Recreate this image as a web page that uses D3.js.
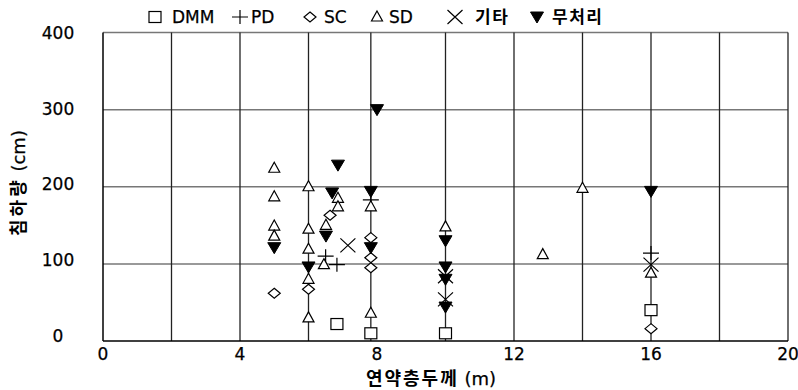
<!DOCTYPE html>
<html>
<head>
<meta charset="utf-8">
<script src="https://cdn.jsdelivr.net/npm/d3@7"></script>
<style>
  body { margin: 0; background: #fff; }
  svg text { font-family: "DejaVu Sans", "Liberation Sans", "Noto Sans CJK KR", sans-serif; fill: #000; stroke: #000; stroke-width: 0.25px; }
  .kr { font-family: "Noto Sans CJK KR", "DejaVu Sans", sans-serif; font-weight: bold; stroke-width: 0; }
</style>
</head>
<body>
<div id="chart"></div>
<script>
// data: [thickness (m), settlement (cm)]
var dmm  = [[6.83, 22], [7.82, 10], [10, 10], [16, 40]];
var pd   = [[6.5, 110], [6.83, 99], [7.82, 183], [16, 114]];
var sc   = [[5, 62], [6, 67], [6.63, 163], [7.82, 134], [7.82, 108], [7.82, 95], [16, 16]];
var sd   = [[5, 224], [5, 187], [5, 149], [5, 136], [6, 200], [6, 145], [6, 119], [6, 80], [6, 30],
            [6.86, 185], [6.86, 174], [6.51, 150], [6.45, 99], [7.82, 174], [7.82, 36],
            [10, 148], [12.84, 112], [14, 198], [16, 88]];
var etc  = [[7.15, 124], [10, 84], [10, 54], [16, 99]];
var none = [[5, 121], [6, 96], [6.86, 228], [6.69, 192], [6.51, 136], [8, 300], [7.82, 194],
            [7.82, 121], [10, 130], [10, 96], [10, 80], [10, 44], [16, 194]];

var seriesNames = ['DMM', 'PD', 'SC', 'SD', '기타', '무처리'];
var seriesData  = [dmm, pd, sc, sd, etc, none];
var seriesShape = ['square', 'plus', 'diamond', 'triangle', 'cross', 'down'];

var xTicks = [0, 4, 8, 12, 16, 20];
var xGrid  = [2, 4, 6, 7.82, 10, 12, 14, 16, 18];
var yTicks = [0, 100, 200, 300, 400];

// layout
var W = 798, H = 390;
var m = {left: 103, right: 10, top: 32.5, bottom: 49};

var svg = d3.select('#chart').append('svg')
            .attr('width', W)
            .attr('height', H);

var x = d3.scaleLinear().domain([0, 20]).range([m.left, W - m.right]);
var y = d3.scaleLinear().domain([0, 400]).range([H - m.bottom, m.top]);

// horizontal grid (including top edge)
svg.append('g').selectAll('line').data(yTicks.slice(1))
   .enter().append('line')
   .attr('x1', x(0)).attr('x2', x(20))
   .attr('y1', d => y(d)).attr('y2', d => y(d))
   .attr('stroke', '#777').attr('stroke-width', 1.5);

// vertical grid
svg.append('g').selectAll('line').data(xGrid.concat([20]))
   .enter().append('line')
   .attr('x1', d => x(d)).attr('x2', d => x(d))
   .attr('y1', y(0)).attr('y2', y(400))
   .attr('stroke', '#222').attr('stroke-width', 1.3);

// axes frame (left + bottom)
svg.append('line')
   .attr('x1', x(0)).attr('x2', x(0)).attr('y1', y(0)).attr('y2', y(400))
   .attr('stroke', '#000').attr('stroke-width', 1.5);
svg.append('line')
   .attr('x1', x(0)).attr('x2', x(20)).attr('y1', y(0)).attr('y2', y(0))
   .attr('stroke', '#000').attr('stroke-width', 1.5);

// tick labels
svg.append('g').selectAll('text').data(yTicks)
   .enter().append('text')
   .attr('x', 58)
   .attr('y', d => y(d) - 5 + d / 400 * 5.5)
   .attr('dy', '0.35em')
   .attr('text-anchor', 'middle')
   .attr('font-size', 17)
   .text(d => d);

svg.append('g').selectAll('text').data(xTicks)
   .enter().append('text')
   .attr('x', d => x(d))
   .attr('y', y(0) + 19)
   .attr('text-anchor', 'middle')
   .attr('font-size', 17)
   .text(d => d);

// axis titles
var xTitle = svg.append('text')
   .attr('x', 431)
   .attr('y', 385)
   .attr('text-anchor', 'middle')
   .attr('font-size', 18);
xTitle.append('tspan').classed('kr', true).attr('letter-spacing', 2).text('연약층두께');
xTitle.append('tspan').text(' (m)');

var yTitle = svg.append('text')
   .attr('transform', 'translate(25,183) rotate(-90)')
   .attr('text-anchor', 'middle')
   .attr('font-size', 18);
yTitle.append('tspan').classed('kr', true).attr('letter-spacing', 3).text('침하량');
yTitle.append('tspan').text(' (cm)');

// marker drawing
function drawMarker(g, shape) {
  switch (shape) {
    case 'square':
      g.append('rect').attr('x', -6).attr('y', -5.5).attr('width', 12).attr('height', 11)
       .attr('fill', '#fff').attr('stroke', '#000').attr('stroke-width', 1.2);
      break
    case 'plus':
      g.append('path').attr('d', 'M-8,0H8M0,-7V7')
       .attr('fill', 'none').attr('stroke', '#000').attr('stroke-width', 1.2);
      break
    case 'diamond':
      g.append('path').attr('d', 'M0,-5L6,0L0,5L-6,0Z')
       .attr('fill', '#fff').attr('stroke', '#000').attr('stroke-width', 1.2);
      break
    case 'triangle':
      g.append('path').attr('d', 'M0,-6L5.5,4L-5.5,4Z')
       .attr('fill', '#fff').attr('stroke', '#000').attr('stroke-width', 1.2);
      break
    case 'cross':
      g.append('path').attr('d', 'M-7.5,-7L7.5,7M-7.5,7L7.5,-7')
       .attr('fill', 'none').attr('stroke', '#000').attr('stroke-width', 1.2);
      break
    case 'down':
      g.append('path').attr('d', 'M-6.5,-5L6.5,-5L0,6Z')
       .attr('fill', '#000').attr('stroke', '#000').attr('stroke-width', 1);
      break
    default:
  }
}

seriesData.forEach(function (data, i) {
  svg.append('g').selectAll('g').data(data)
     .enter().append('g')
     .attr('transform', d => 'translate(' + x(d[0]) + ',' + y(d[1]) + ')')
     .each(function () { drawMarker(d3.select(this), seriesShape[i]); });
});

// legend
var legendSymX = [155, 240, 310, 377, 455, 537];
var legendTxtX = [172, 251, 324, 389, 475, 552];
seriesNames.forEach(function (name, i) {
  var g = svg.append('g').attr('transform', 'translate(' + legendSymX[i] + ',17)');
  drawMarker(g, seriesShape[i]);
  var isKr = /[가-힣]/.test(name);
  svg.append('text')
     .classed('kr', isKr)
     .attr('x', legendTxtX[i])
     .attr('y', 23)
     .attr('font-size', 17)
     .attr('letter-spacing', isKr ? 1.5 : 0)
     .text(name);
});
</script>
</body>
</html>
